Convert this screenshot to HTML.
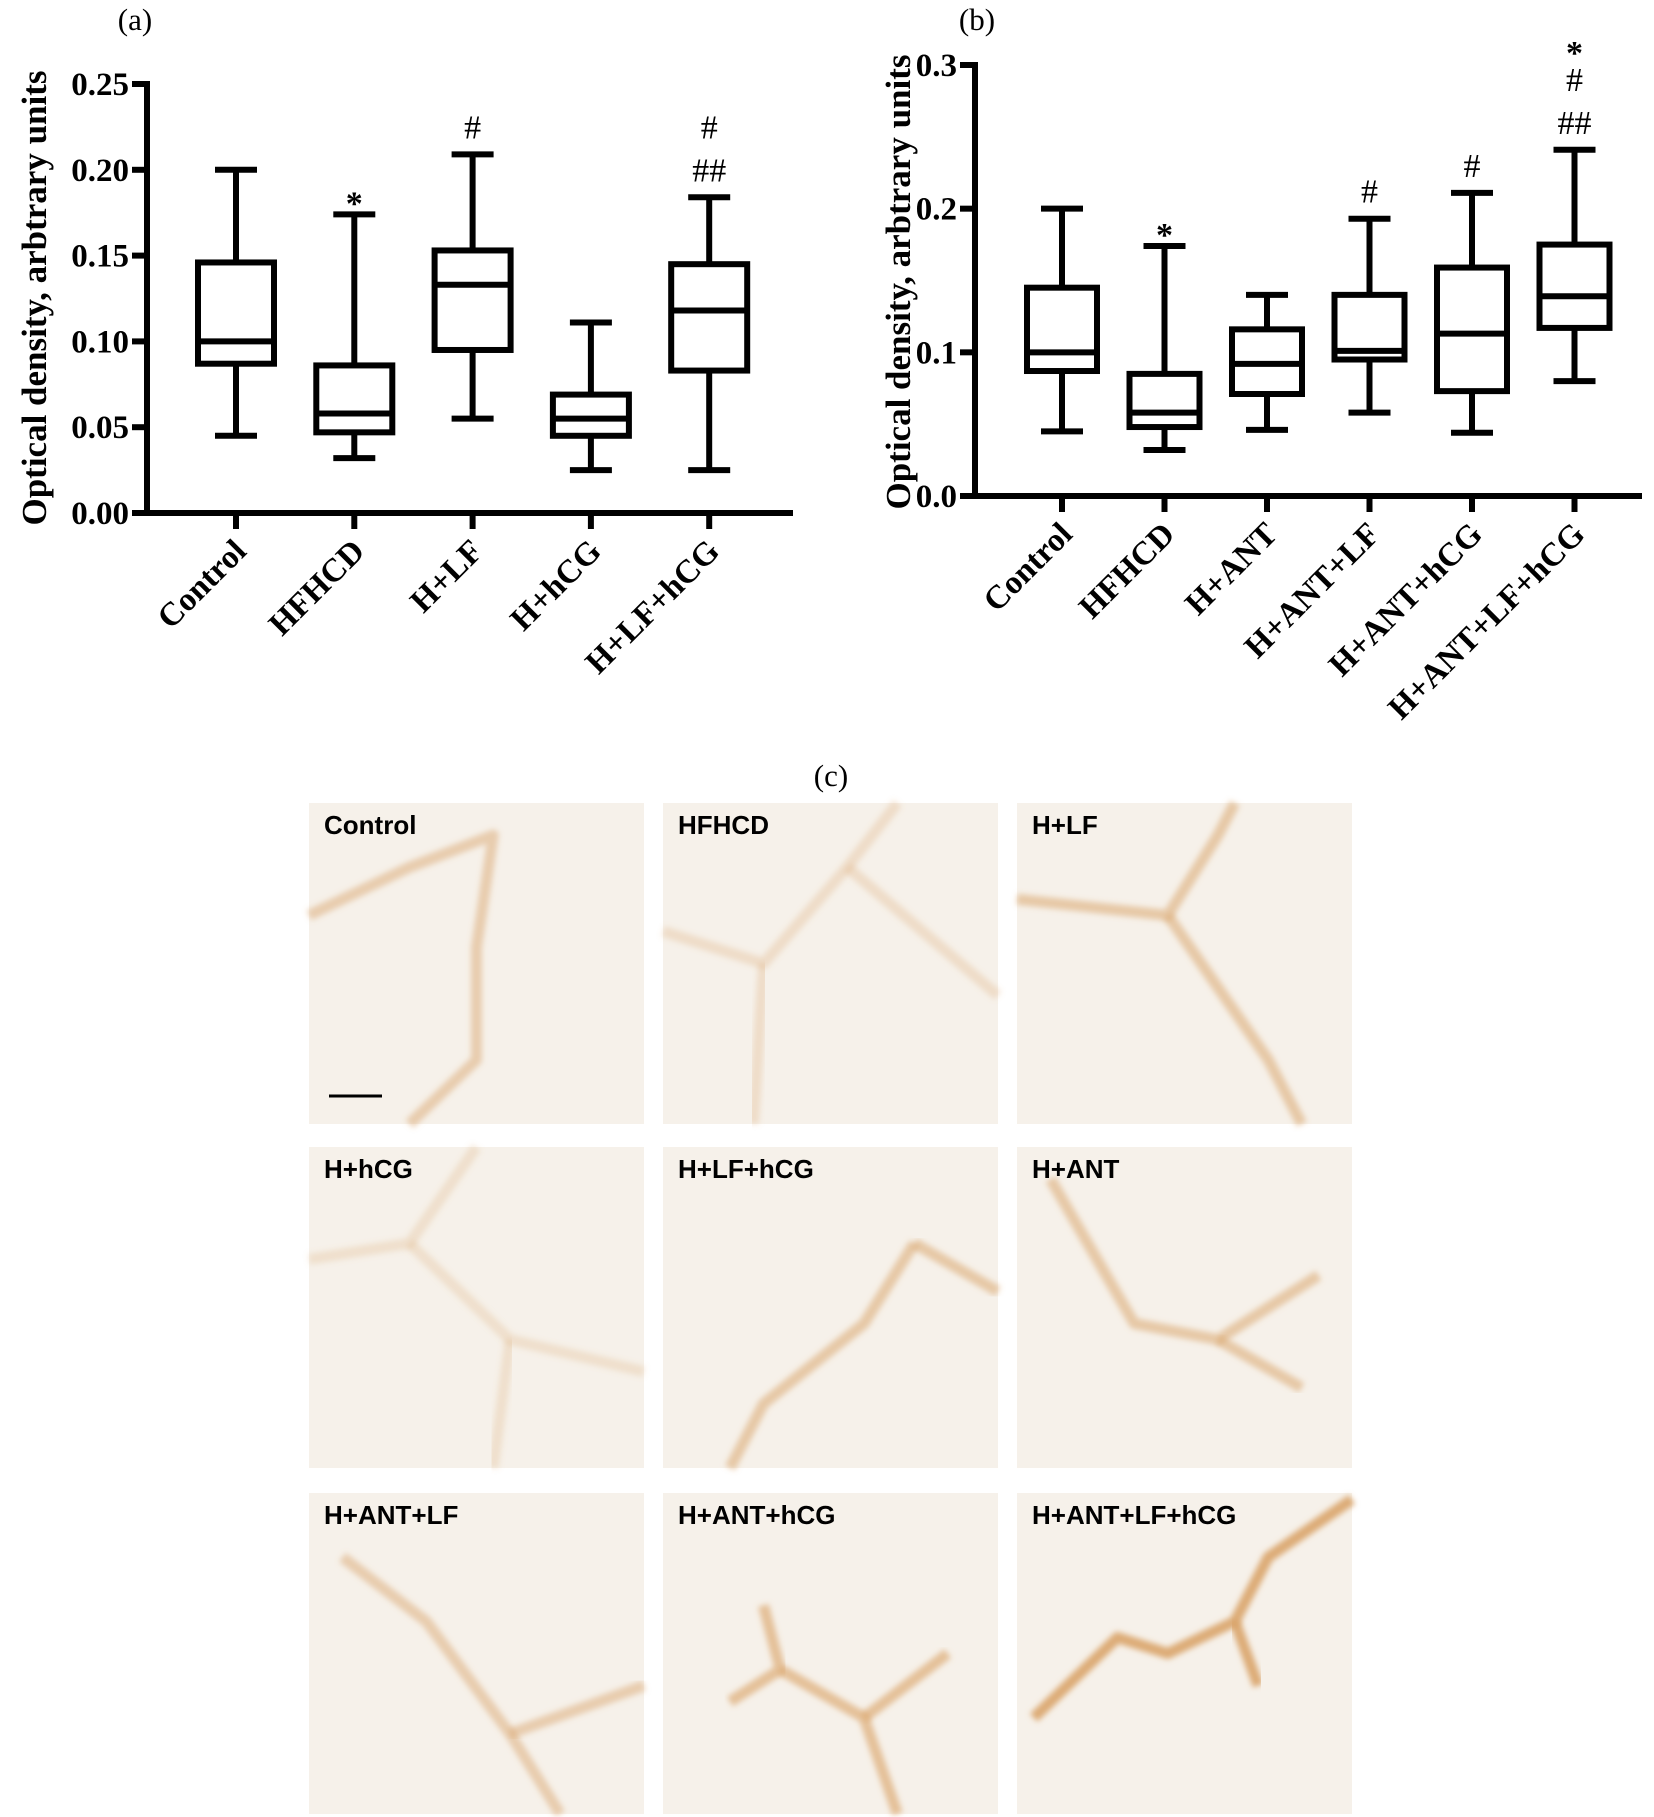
<!DOCTYPE html>
<html><head><meta charset="utf-8"><style>
html,body{margin:0;padding:0;background:#fff;}
svg{display:block;}
.tk{font-family:"Liberation Serif",serif;font-weight:bold;font-size:33px;fill:#000;}
.ttl{font-family:"Liberation Serif",serif;font-weight:bold;font-size:35px;fill:#000;}
.pl{font-family:"Liberation Serif",serif;font-size:31px;fill:#000;}
.ann{font-family:"Liberation Serif",serif;font-size:34px;fill:#000;}
.ml{font-family:"Liberation Sans",sans-serif;font-weight:bold;font-size:26px;fill:#000;}
</style></head><body>
<svg id="fig" width="1654" height="1817" viewBox="0 0 1654 1817" xmlns="http://www.w3.org/2000/svg">
<defs><filter id="blur" x="-10%" y="-10%" width="120%" height="120%"><feGaussianBlur stdDeviation="3"/></filter></defs>
<g id="chartA"></g>
<g id="chartB"></g>
<text class="pl" x="831" y="786" text-anchor="middle">(c)</text>
<g id="micro"></g>
</svg>
<script>
const NS="http://www.w3.org/2000/svg";
// Chart (a) data
const catsA=["Control","HFHCD","H+LF","H+hCG","H+LF+hCG"];
const minA=[0.045,0.032,0.055,0.025,0.025];
const q1A=[0.087,0.047,0.095,0.045,0.083];
const medA=[0.100,0.058,0.133,0.055,0.118];
const q3A=[0.146,0.086,0.153,0.069,0.145];
const maxA=[0.200,0.174,0.209,0.111,0.184];
const annA=[[],["*"],["#"],[],["##","#"]];
const ticksA=[0,0.05,0.10,0.15,0.20,0.25];
const tickLabA=["0.00","0.05","0.10","0.15","0.20","0.25"];
// Chart (b) data
const catsB=["Control","HFHCD","H+ANT","H+ANT+LF","H+ANT+hCG","H+ANT+LF+hCG"];
const minB=[0.045,0.032,0.046,0.058,0.044,0.080];
const q1B=[0.087,0.048,0.071,0.095,0.073,0.117];
const medB=[0.100,0.058,0.092,0.101,0.113,0.139];
const q3B=[0.145,0.085,0.116,0.140,0.159,0.175];
const maxB=[0.200,0.174,0.140,0.193,0.211,0.241];
const annB=[[],["*"],[],["#"],["#"],["##","#","*"]];
const ticksB=[0,0.1,0.2,0.3];
const tickLabB=["0.0","0.1","0.2","0.3"];

function el(tag,attrs,parent,text){const e=document.createElementNS(NS,tag);for(const k in attrs)e.setAttribute(k,attrs[k]);if(text!==undefined)e.textContent=text;parent.appendChild(e);return e;}

function drawChart(g,cfg){
  const y=v=>cfg.y0+(cfg.y1-cfg.y0)*(v-cfg.vmin)/(cfg.vmax-cfg.vmin);
  const x=i=>cfg.x0+i*cfg.step;
  const ax=el("path",{d:`M${cfg.ax},${y(cfg.vmax)-3} V${cfg.y0} H${cfg.axEnd}`,stroke:"#000","stroke-width":6,fill:"none"},g);
  
  
  cfg.ticks.forEach((t,i)=>{
    const tl=el("line",{x1:cfg.ax-15,x2:cfg.ax,y1:y(t),y2:y(t),stroke:"#000","stroke-width":6},g);
    
    
    const tx=el("text",{class:"tk",x:cfg.ax-18,y:y(t)+11,"text-anchor":"end"},g,cfg.tickLab[i]);
    
    
  });
  const tt=el("text",{class:"ttl",transform:`translate(${cfg.titleX},${cfg.titleY}) rotate(-90)`,"text-anchor":"middle"},g,"Optical density, arbtrary units");
  
  
  cfg.cats.forEach((c,i)=>{
    const cx=x(i),hw=cfg.hw,cw=21;
    const bg=el("g",{},g);
    
    
    const s={stroke:"#000","stroke-width":6,fill:"none"};
    el("line",Object.assign({x1:cx,x2:cx,y1:y(cfg.max[i]),y2:y(cfg.q3[i])},s),bg);
    el("line",Object.assign({x1:cx,x2:cx,y1:y(cfg.q1[i]),y2:y(cfg.min[i])},s),bg);
    el("line",Object.assign({x1:cx-cw,x2:cx+cw,y1:y(cfg.max[i]),y2:y(cfg.max[i])},s),bg);
    el("line",Object.assign({x1:cx-cw,x2:cx+cw,y1:y(cfg.min[i]),y2:y(cfg.min[i])},s),bg);
    el("rect",Object.assign({x:cx-hw,y:y(cfg.q3[i]),width:2*hw,height:y(cfg.q1[i])-y(cfg.q3[i])},s),bg);
    el("line",Object.assign({x1:cx-hw,x2:cx+hw,y1:y(cfg.med[i]),y2:y(cfg.med[i])},s),bg);
    const tk=el("line",{x1:cx,x2:cx,y1:cfg.y0,y2:cfg.y0+16,stroke:"#000","stroke-width":6},g);
    
    
    const lb=el("text",{class:"tk",transform:`translate(${cx+12},${cfg.y0+40}) rotate(-45)`,"text-anchor":"end"},g,c);
    
    
    let ay=y(cfg.max[i])-16;
    cfg.ann[i].forEach(a=>{
      const at=el("text",{class:"ann",x:cx,y:ay+(a==="*"?16:0),"text-anchor":"middle","font-size":a==="*"?46:34,"font-weight":a==="*"?"bold":"normal"},g,a);
      
      
      ay-=43;
    });
  });
  const pl=el("text",{class:"pl",x:cfg.plX,y:30,"text-anchor":"middle"},g,cfg.plabel);
  
  
}
drawChart(document.getElementById("chartA"),{cats:catsA,min:minA,q1:q1A,med:medA,q3:q3A,max:maxA,ann:annA,ticks:ticksA,tickLab:tickLabA,
  vmin:0,vmax:0.25,y0:513,y1:84,ax:147,axEnd:793,x0:236,step:118.3,hw:38,titleX:46,titleY:298,plX:135,plabel:"(a)"});
drawChart(document.getElementById("chartB"),{cats:catsB,min:minB,q1:q1B,med:medB,q3:q3B,max:maxB,ann:annB,ticks:ticksB,tickLab:tickLabB,
  vmin:0,vmax:0.3,y0:496,y1:65,ax:975,axEnd:1642,x0:1062,step:102.5,hw:35,titleX:910,titleY:282,plX:977,plabel:"(b)"});

// micrographs
const labels=["Control","HFHCD","H+LF","H+hCG","H+LF+hCG","H+ANT","H+ANT+LF","H+ANT+hCG","H+ANT+LF+hCG"];
const cols=[309,663,1017],rows=[803,1147,1493],W=335,H=321;
const stains=[
 [[0,0.35,0.3,0.2,0.55,0.1,0.5,0.45,0.5,0.8,0.3,1]],
 [[0,0.4,0.3,0.5,0.55,0.2,0.7,0],[0.55,0.2,1,0.6],[0.3,0.5,0.27,1]],
 [[0,0.3,0.45,0.35,0.6,0.1,0.65,0],[0.45,0.35,0.75,0.8,0.85,1]],
 [[0,0.35,0.3,0.3,0.5,0],[0.3,0.3,0.6,0.6,1,0.7],[0.6,0.6,0.55,1]],
 [[0.75,0.3,0.6,0.55,0.3,0.8,0.2,1],[0.75,0.3,1,0.45]],
 [[0.1,0.1,0.35,0.55,0.6,0.6,0.9,0.4],[0.6,0.6,0.85,0.75]],
 [[0.1,0.2,0.35,0.4,0.6,0.75,0.75,1],[0.6,0.75,1,0.6]],
 [[0.3,0.35,0.35,0.55,0.2,0.65],[0.35,0.55,0.6,0.7,0.7,1],[0.6,0.7,0.85,0.5]],
 [[0.05,0.7,0.3,0.45,0.45,0.5,0.65,0.4,0.75,0.2,1,0.02],[0.65,0.4,0.72,0.6]]
];
const strong=[0.45,0.25,0.5,0.22,0.5,0.5,0.45,0.6,0.85];
const mg=document.getElementById("micro");
labels.forEach((lab,k)=>{
  const X=cols[k%3],Y=rows[Math.floor(k/3)];
  const p=el("g",{},mg);
  
  
  el("rect",{x:X,y:Y,width:W,height:H,fill:"#f6f1ea"},p);
  stains[k].forEach(s=>{
    let d="";for(let j=0;j<s.length;j+=2)d+=(j?"L":"M")+(X+s[j]*W)+","+(Y+s[j+1]*H)+" ";
    el("path",{d:d,stroke:"#d8a063","stroke-width":11,"stroke-opacity":strong[k],fill:"none","stroke-linejoin":"round",filter:"url(#blur)"},p);
  });
  const t=el("text",{class:"ml",x:X+15,y:Y+31},p,lab);
  
  
});
const sb=el("line",{x1:329,x2:382,y1:1096,y2:1096,stroke:"#000","stroke-width":3},mg);


</script>
</body></html>
